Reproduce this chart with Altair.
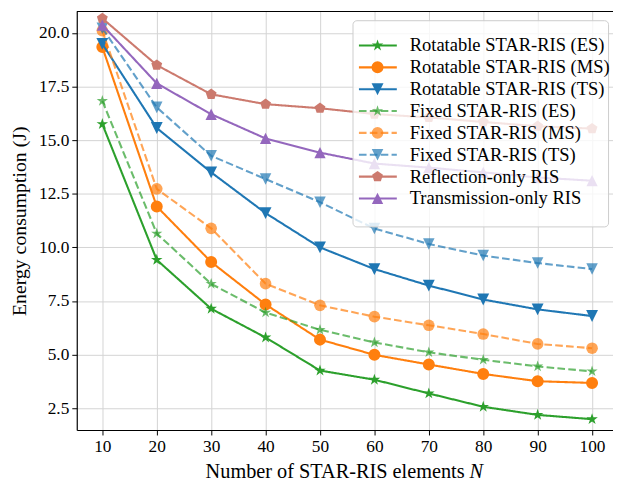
import altair as alt
import pandas as pd

# ---------------- data ----------------
N_values = [10, 20, 30, 40, 50, 60, 70, 80, 90, 100]

rot_es = [15.75, 9.42, 7.14, 5.80, 4.26, 3.83, 3.19, 2.57, 2.19, 1.99]
rot_ms = [19.34, 11.91, 9.32, 7.34, 5.70, 4.99, 4.54, 4.10, 3.76, 3.68]
rot_ts = [19.49, 15.57, 13.50, 11.60, 10.00, 8.99, 8.22, 7.57, 7.11, 6.80]
fix_es = [16.83, 10.65, 8.30, 6.96, 6.16, 5.57, 5.11, 4.76, 4.45, 4.22]
fix_ms = [20.11, 12.73, 10.89, 8.31, 7.30, 6.77, 6.37, 5.96, 5.50, 5.30]
fix_ts = [20.22, 16.53, 14.27, 13.19, 12.11, 10.88, 10.16, 9.62, 9.27, 8.99]
refl_only = [20.68, 18.50, 17.14, 16.68, 16.49, 16.22, 16.06, 15.85, 15.65, 15.54]
trans_only = [20.37, 17.65, 16.21, 15.08, 14.42, 13.91, 13.72, 13.50, 13.26, 13.11]

names = [
    "Rotatable STAR-RIS (ES)",
    "Rotatable STAR-RIS (MS)",
    "Rotatable STAR-RIS (TS)",
    "Fixed STAR-RIS (ES)",
    "Fixed STAR-RIS (MS)",
    "Fixed STAR-RIS (TS)",
    "Reflection-only RIS",
    "Transmission-only RIS",
]
series = [rot_es, rot_ms, rot_ts, fix_es, fix_ms, fix_ts, refl_only, trans_only]

y_ticks = [2.5, 5.0, 7.5, 10.0, 12.5, 15.0, 17.5, 20.0]

# ---------------- styles ----------------
STAR = ("M0,-1L0.2245,-0.309L0.9511,-0.309L0.3633,0.118L0.5878,0.809L0,0.382"
        "L-0.5878,0.809L-0.3633,0.118L-0.9511,-0.309L-0.2245,-0.309Z")
PENTA = "M0,-1L0.9511,-0.309L0.5878,0.809L-0.5878,0.809L-0.9511,-0.309Z"
TRI_DOWN = "M0,1L1,-1L-1,-1Z"
TRI_UP = "M0,-1L1,1L-1,1Z"

colors = ["#2ca02c", "#ff7f0e", "#1f77b4", "#2ca02c", "#ff7f0e", "#1f77b4",
          "#cc7a6e", "#9467bd"]
DASH = [7.7, 3.3]
SOLID = [1, 0]
dashes = [SOLID, SOLID, SOLID, DASH, DASH, DASH, SOLID, SOLID]
opacities = [1, 1, 1, 0.7, 0.7, 0.7, 1, 1]
shapes = [STAR, "circle", TRI_DOWN, STAR, "circle", TRI_DOWN, PENTA, TRI_UP]
sizes = [150, 130, 115, 150, 130, 115, 135, 115]

FONT = "Liberation Serif"

rows = []
for name, vals in zip(names, series):
    for n, v in zip(N_values, vals):
        rows.append({"series": name, "N": n, "E": v})
df = pd.DataFrame(rows)
legend_df = pd.DataFrame({"series": names})

W, H = 542, 423

color_enc = alt.Color("series:N", scale=alt.Scale(domain=names, range=colors), legend=None)
dash_enc = alt.StrokeDash("series:N", scale=alt.Scale(domain=names, range=dashes), legend=None)
shape_enc = alt.Shape("series:N", scale=alt.Scale(domain=names, range=shapes), legend=None)
size_enc = alt.Size("series:O", scale=alt.Scale(domain=names, range=sizes), legend=None)

x_axis = alt.Axis(values=N_values, grid=True, title=None, labelFont=FONT,
                  labelFontSize=17.5, labelColor="black", labelPadding=3,
                  tickSize=5, tickColor="black", domainColor="black",
                  domainWidth=1.2, gridColor="#d3d3d3", gridWidth=1)
y_axis = alt.Axis(values=y_ticks, format=".1f", grid=True,
                  title="Energy consumption (J)", titleFont=FONT,
                  titleFontSize=20, titleFontWeight="normal", titleColor="black",
                  titlePadding=9, labelFont=FONT, labelFontSize=17.5,
                  labelColor="black", labelPadding=3, tickSize=5,
                  tickColor="black", domainColor="black", domainWidth=1.2,
                  gridColor="#d3d3d3", gridWidth=1)

X = alt.X("N:Q", scale=alt.Scale(domain=[5.3, 103.85], nice=False, zero=False), axis=x_axis)
Y = alt.Y("E:Q", scale=alt.Scale(domain=[1.485, 21.0], nice=False, zero=False), axis=y_axis)

data_layers = []
for i, name in enumerate(names):
    sub = alt.Chart(df).transform_filter(alt.datum.series == name)
    line = sub.mark_line(strokeWidth=2.1, opacity=opacities[i]).encode(
        x=X, y=Y, color=color_enc, strokeDash=dash_enc)
    pts = sub.mark_point(filled=True, strokeWidth=1, opacity=opacities[i]).encode(
        x=X, y=Y, color=color_enc, shape=shape_enc, size=size_enc)
    data_layers += [line, pts]

top_spine = alt.Chart(pd.DataFrame({"a": [0]})).mark_rule(
    color="black", strokeWidth=1.2).encode(
    x=alt.value(0), x2=alt.value(W), y=alt.value(0))

x_title_a = alt.Chart(pd.DataFrame({"t": ["Number of STAR-RIS elements"]})).mark_text(
    font=FONT, fontSize=20.5, align="right", baseline="alphabetic", color="black").encode(
    text="t:N", x=alt.value(392), y=alt.value(471))
x_title_b = alt.Chart(pd.DataFrame({"t": ["N"]})).mark_text(
    font=FONT, fontSize=20.5, fontStyle="italic", align="left", baseline="alphabetic",
    color="black").encode(text="t:N", x=alt.value(397), y=alt.value(471))

main = alt.layer(*data_layers, top_spine, x_title_a, x_title_b)

# ---------------- legend ----------------
LY = alt.Y("series:N", scale=alt.Scale(domain=names, range=[23.3, 200], padding=0), axis=None)

box = alt.Chart(pd.DataFrame({"a": [0]})).mark_rect(
    fill="white", fillOpacity=0.8, stroke="#cccccc", strokeWidth=1, cornerRadius=4).encode(
    x=alt.value(279.2), x2=alt.value(537.5), y=alt.value(9.3), y2=alt.value(217.7))

legend_layers = [box]
for i, name in enumerate(names):
    lsub = alt.Chart(legend_df).transform_filter(alt.datum.series == name)
    legend_layers.append(lsub.mark_rule(strokeWidth=2.1, opacity=opacities[i]).encode(
        x=alt.value(285.2), x2=alt.value(323.5), y=LY,
        color=color_enc, strokeDash=dash_enc))
    legend_layers.append(lsub.mark_point(filled=True, strokeWidth=1, opacity=opacities[i]).encode(
        x=alt.value(304.0), y=LY, color=color_enc, shape=shape_enc, size=size_enc))

leg_text = alt.Chart(legend_df).mark_text(
    font=FONT, fontSize=18.7, align="left", baseline="middle", color="black").encode(
    x=alt.value(336.5), y=LY, text="series:N")
legend_layers.append(leg_text)

legend = alt.layer(*legend_layers)

chart = alt.layer(main, legend).resolve_scale(
    y="independent", color="shared", shape="shared", size="shared",
    strokeDash="shared"
).properties(
    width=W, height=H,
    autosize=alt.AutoSizeParams(type="none"),
    padding={"left": 69.5, "top": 1, "right": 0, "bottom": 51},
).configure_view(stroke=None)

chart.save("out.html", embed_options={"renderer": "svg", "actions": False})
